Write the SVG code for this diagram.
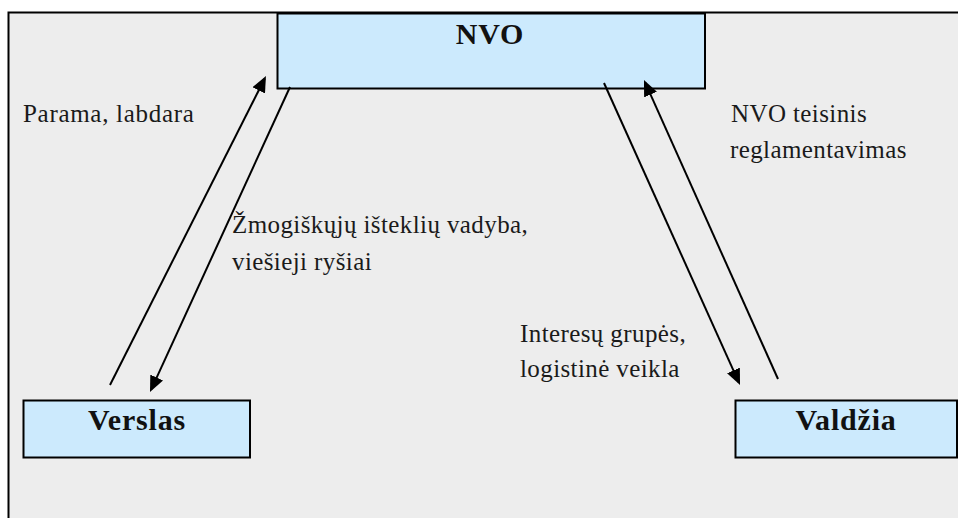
<svg xmlns="http://www.w3.org/2000/svg" width="958" height="518" viewBox="0 0 958 518">
<style>
.box{fill:#cceafd;stroke:#000;stroke-width:2}
.title{font-family:"Liberation Serif","Times New Roman",serif;font-weight:bold;font-size:30px;fill:#111;text-anchor:middle;letter-spacing:0.8px}
.lbl{font-family:"Liberation Serif","Times New Roman",serif;font-size:25px;fill:#1a1a1a;letter-spacing:0.4px}
.conn{stroke:#000;stroke-width:2;fill:none;marker-end:url(#ah)}
</style>
<defs>
<marker id="ah" viewBox="0 0 16 14" refX="13" refY="7" markerWidth="16" markerHeight="14" markerUnits="userSpaceOnUse" orient="auto">
<path d="M0,0 L16,7 L0,14 z" fill="#000"/>
</marker>
</defs>
<rect x="0" y="0" width="958" height="518" fill="#fff"/>
<rect x="8.5" y="12.5" width="960" height="520" fill="#ededed" stroke="#000" stroke-width="2"/>
<g id="nvo">
<rect class="box" x="277.5" y="13.5" width="427.5" height="75"/>
<text class="title" x="490" y="44">NVO</text>
</g>
<g id="verslas">
<rect class="box" x="23.5" y="400.5" width="226.5" height="57"/>
<text class="title" x="137" y="430">Verslas</text>
</g>
<g id="valdzia">
<rect class="box" x="735.5" y="400.5" width="221.5" height="57"/>
<text class="title" x="846" y="430">Valdžia</text>
</g>
<g id="connectors">
<line class="conn" x1="110" y1="385" x2="264.6" y2="78.7"/>
<line class="conn" x1="290" y1="87" x2="151.25" y2="389.3"/>
<line class="conn" x1="604" y1="83" x2="738.8" y2="382.3"/>
<line class="conn" x1="778" y1="379" x2="645.2" y2="82.7"/>
</g>
<g id="labels">
<text class="lbl" x="23" y="122" style="letter-spacing:0.7px">Parama, labdara</text>
<text class="lbl" x="232" y="232.5">Žmogiškųjų išteklių vadyba,</text>
<text class="lbl" x="232" y="270">viešieji ryšiai</text>
<text class="lbl" x="731" y="122">NVO teisinis</text>
<text class="lbl" x="730" y="158">reglamentavimas</text>
<text class="lbl" x="520" y="341.5">Interesų grupės,</text>
<text class="lbl" x="520" y="376.5">logistinė veikla</text>
</g>
</svg>
